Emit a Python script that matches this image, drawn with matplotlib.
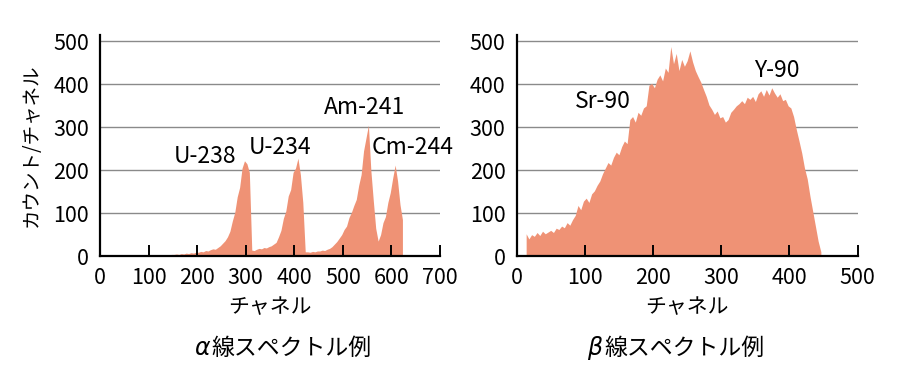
import matplotlib.pyplot as plt
import numpy as np

plt.rcParams['font.family'] = ['Noto Sans CJK JP', 'DejaVu Sans']

FILL = '#EF9275'

# alpha spectrum: counts per 5-channel bin, first bin starts at channel 0
alpha_start = 0
alpha_step = 5
alpha_counts = [
    0, 0, 0, 0, 0, 0, 0, 0, 0, 0,
    0, 0, 0, 0, 0, 0, 0, 0, 0, 0,
    1, 2, 1, 2, 2, 3, 2, 3, 3, 4,
    4, 5, 4, 6, 5, 7, 6, 8, 7, 9,
    9, 11, 10, 13, 12, 15, 17, 16, 20, 24,
    30, 36, 45, 58, 82, 102, 138, 160, 205, 222,
    215, 195, 14, 13, 16, 18, 17, 20, 19, 22,
    24, 28, 32, 45, 60, 88, 105, 140, 155, 195,
    205, 228, 190, 125, 10, 10, 9, 11, 10, 12,
    12, 14, 13, 16, 18, 22, 28, 34, 42, 50,
    62, 70, 90, 102, 118, 132, 165, 190, 245, 275,
    305, 200, 130, 65, 35, 50, 78, 92, 125, 148,
    182, 212, 175, 120, 85,
]
alpha_labels = ['U-238', 'U-234', 'Am-241', 'Cm-244']
alpha_label_pos = [(216, 232), (371, 254), (545, 345), (643, 254)]

# beta spectrum: counts per 4-channel bin, first bin starts at channel 12
beta_start = 12
beta_step = 4
beta_counts = [
    52, 40, 50, 46, 55, 48, 58, 52, 56,
    60, 55, 65, 62, 70, 66, 78, 72, 85, 95,
    118, 108, 128, 135, 125, 145, 152, 165, 175, 192,
    205, 218, 212, 230, 242, 236, 255, 268, 262, 318,
    325, 312, 335, 328, 345, 350, 398, 402, 392, 412,
    422, 408, 438, 428, 488, 448, 472, 432, 458, 442,
    455, 478, 452, 432, 418, 405, 388, 372, 352, 342,
    330, 338, 322, 325, 312, 318, 335, 342, 350, 355,
    362, 355, 370, 365, 372, 360, 378, 385, 372, 388,
    375, 392, 380, 370, 378, 362, 365, 350, 345, 325,
    295, 268, 240, 205, 180, 140, 105, 70, 35, 10,
]
beta_labels = ['Sr-90', 'Y-90']
beta_label_pos = [(126, 359), (381, 432)]


def draw(ax, start, step, counts, xmax, labels, label_pos):
    counts = np.array(counts)
    x = start + step * np.arange(len(counts)) + step / 2
    ax.fill_between(x, counts, 0, color=FILL, lw=0, zorder=2)
    ax.set_xlim(0, xmax)
    ax.set_ylim(0, 515)
    ax.set_xticks(np.arange(0, xmax + 1, 100))
    ax.set_yticks(np.arange(0, 501, 100))
    ax.set_axisbelow(False)
    for y in range(100, 501, 100):
        ax.axhline(y, color='#8a8a8a', lw=1.0, zorder=1)
    for s in ['top', 'right']:
        ax.spines[s].set_visible(False)
    for s in ['left', 'bottom']:
        ax.spines[s].set_linewidth(1.6)
    ax.tick_params(axis='x', direction='in', length=8, width=1.4,
                   labelsize=15.5, pad=8)
    ax.tick_params(axis='y', length=0, labelsize=15.5, pad=8)
    ax.set_xlabel('チャネル', fontsize=15, labelpad=5)
    for txt, (xx, yy) in zip(labels, label_pos):
        ax.text(xx, yy, txt, ha='center', va='center', fontsize=16.5)


def main():
    fig = plt.figure(figsize=(9, 3.68), dpi=100)
    ax1 = fig.add_axes([0.111, 0.304, 0.378, 0.601])
    ax2 = fig.add_axes([0.574, 0.304, 0.379, 0.601])

    draw(ax1, alpha_start, alpha_step, alpha_counts, 700,
         alpha_labels, alpha_label_pos)
    draw(ax2, beta_start, beta_step, beta_counts, 500,
         beta_labels, beta_label_pos)
    ax1.set_ylabel('カウント/チャネル', fontsize=14, labelpad=8)

    # subtitles with italic greek letter
    fig.text(0.233, 0.035, 'α', ha='right', fontsize=17,
             style='italic', family='DejaVu Sans')
    fig.text(0.235, 0.035, '線スペクトル例', ha='left', fontsize=16.5)
    fig.text(0.669, 0.035, 'β', ha='right', fontsize=17,
             style='italic', family='DejaVu Sans')
    fig.text(0.671, 0.035, '線スペクトル例', ha='left', fontsize=16.5)

    fig.savefig('out.png', dpi=100)


if __name__ == '__main__':
    main()
